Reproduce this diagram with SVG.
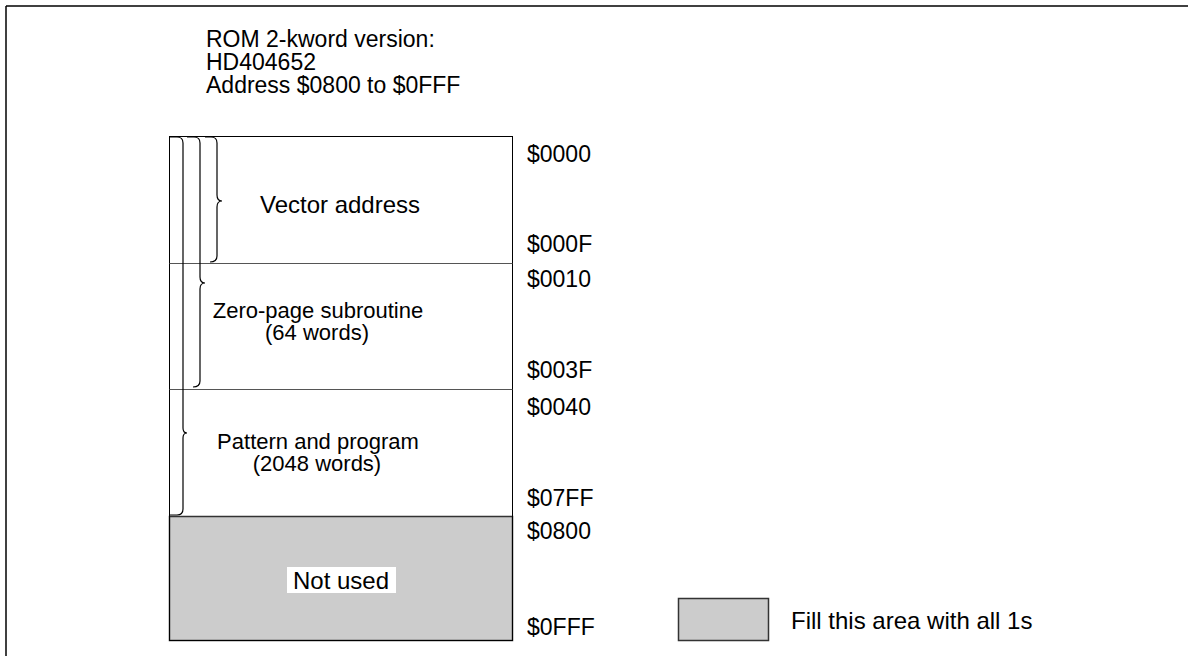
<svg xmlns="http://www.w3.org/2000/svg" width="1188" height="656" viewBox="0 0 1188 656">
<style>
text{font-family:"Liberation Sans",Arial,sans-serif;font-size:23px;fill:#000}
.c{text-anchor:middle}
.s{font-size:22px}
.box{fill:none;stroke:#000;stroke-width:1}
.brace{fill:none;stroke:#000;stroke-width:1.2}
.div{stroke:#555;stroke-width:1}
.gray{fill:#cccccc;stroke:#333;stroke-width:1.5}
</style>
<rect width="1188" height="656" fill="#fff"/>
<g id="frame">
<line x1="6" y1="6" x2="1188" y2="6" stroke="#000" stroke-width="1.5"/>
<line x1="6" y1="6" x2="6" y2="656" stroke="#000" stroke-width="1.5"/>
</g>
<g id="header">
<text x="206" y="47">ROM 2-kword version:</text>
<text x="206" y="70">HD404652</text>
<text x="206" y="93">Address $0800 to $0FFF</text>
</g>
<g id="memory-map">
<rect x="169.5" y="136.5" width="343" height="127" fill="#fff" stroke="#000"/>
<rect x="169.5" y="516.5" width="343" height="124" class="gray"/>
<rect x="169.5" y="136.5" width="343" height="504" class="box" stroke="#333"/>
<line x1="169.5" y1="263.5" x2="512.5" y2="263.5" class="div"/>
<line x1="169.5" y1="389.5" x2="512.5" y2="389.5" class="div"/>
</g>
<g id="node-vector">
<text class="c" x="340" y="213" style="font-size:24px">Vector address</text>
</g>
<g id="node-zeropage">
<text class="c s" x="318" y="318">Zero-page subroutine</text>
<text class="c s" x="317" y="340">(64 words)</text>
</g>
<g id="node-pattern">
<text class="c s" x="318" y="449">Pattern and program</text>
<text class="c s" x="317" y="471">(2048 words)</text>
</g>
<g id="node-notused">
<rect x="287" y="567" width="109" height="26" fill="#fff"/>
<text class="c" x="341" y="589" style="font-size:24px">Not used</text>
</g>
<g id="connectors">
<path class="brace" d="M170,137 H177 Q183,137 183,143 V428 Q183,433 187,433 Q183,433 183,438 V509 Q183,515 177,515 H170"/>
<path class="brace" d="M187,137 H194 Q200,137 200,143 V277 Q200,283 205,283 Q200,283 200,289 V381 Q200,387 193,387"/>
<path class="brace" d="M205,137 H211 Q217,137 217,143 V195 Q217,201 222,201 Q217,201 217,207 V256 Q217,262 210,262"/>
</g>
<g id="addresses">
<text x="527" y="162">$0000</text>
<text x="527" y="252">$000F</text>
<text x="527" y="287">$0010</text>
<text x="527" y="378">$003F</text>
<text x="527" y="415">$0040</text>
<text x="527" y="506">$07FF</text>
<text x="527" y="539">$0800</text>
<text x="527" y="635">$0FFF</text>
</g>
<g id="legend">
<rect x="678.5" y="598.5" width="90" height="42" class="gray"/>
<text x="791" y="629" style="font-size:24px">Fill this area with all 1s</text>
</g>
</svg>
